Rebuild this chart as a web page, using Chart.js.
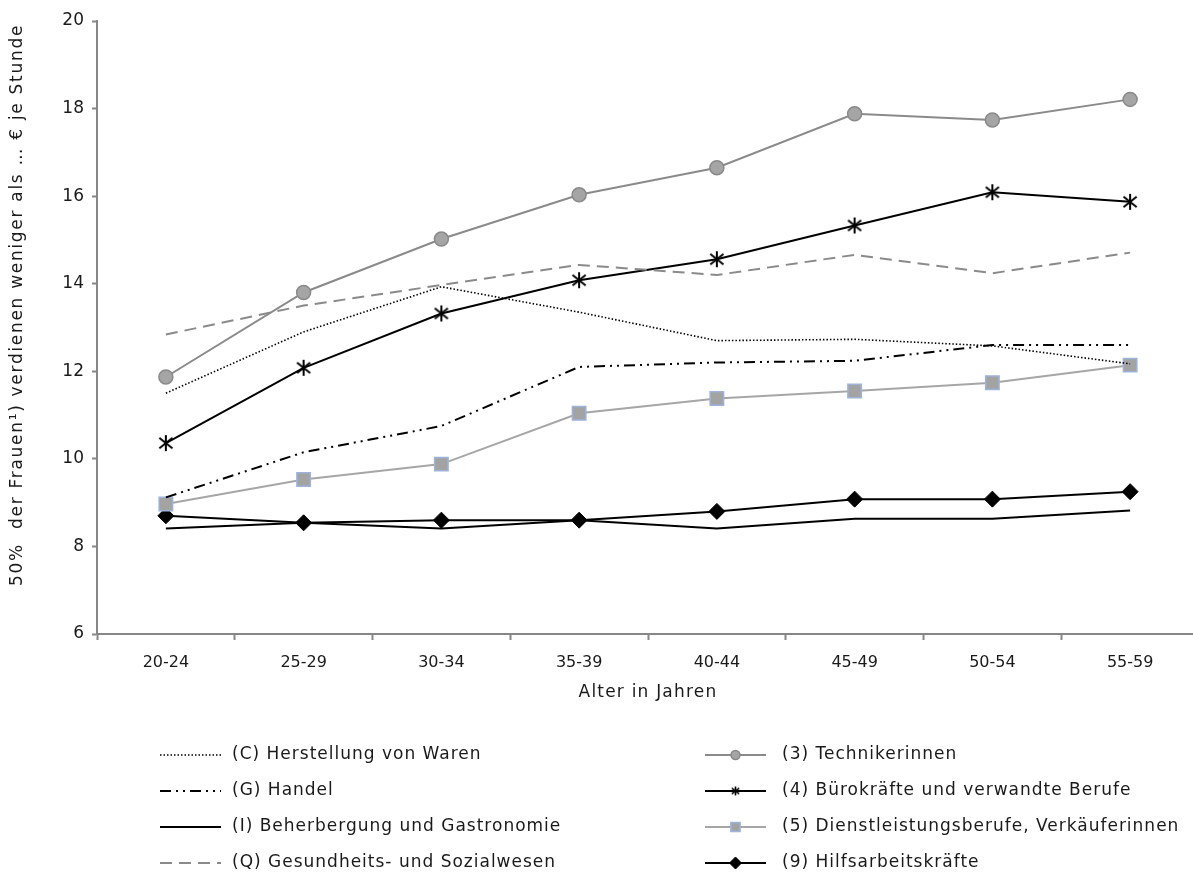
<!DOCTYPE html>
<html>
<head>
<meta charset="utf-8">
<script src="https://cdn.jsdelivr.net/npm/chart.js@4.4.1/dist/chart.umd.min.js"></script>
<style>
  html, body { margin: 0; padding: 0; background: #fff; overflow: hidden; }
  #wrap { position: absolute; left: 0; top: 0; width: 1210px; height: 875px; }
</style>
</head>
<body>
<div id="wrap"><canvas id="c"></canvas></div>
<script>
// ---- data ----
const categories = ['20-24', '25-29', '30-34', '35-39', '40-44', '45-49', '50-54', '55-59'];
const yTicks = [6, 8, 10, 12, 14, 16, 18, 20];
const herstellung = [11.50, 12.90, 13.93, 13.35, 12.70, 12.73, 12.58, 12.17];
const handel = [9.12, 10.15, 10.75, 12.10, 12.20, 12.24, 12.60, 12.60];
const beherbergung = [8.41, 8.54, 8.41, 8.60, 8.41, 8.63, 8.63, 8.82];
const gesundheit = [12.84, 13.50, 13.97, 14.43, 14.20, 14.66, 14.24, 14.71];
const techniker = [11.87, 13.80, 15.02, 16.03, 16.65, 17.88, 17.74, 18.21];
const buero = [10.36, 12.08, 13.32, 14.08, 14.56, 15.33, 16.09, 15.87];
const dienst = [8.97, 9.53, 9.88, 11.04, 11.38, 11.55, 11.74, 12.14];
const hilfs = [8.70, 8.54, 8.60, 8.60, 8.80, 9.08, 9.08, 9.25];
const seriesNames = [
  '(C) Herstellung von Waren',
  '(G) Handel',
  '(I) Beherbergung und Gastronomie',
  '(Q) Gesundheits- und Sozialwesen',
  '(3) Technikerinnen',
  '(4) Bürokräfte und verwandte Berufe',
  '(5) Dienstleistungsberufe, Verkäuferinnen',
  '(9) Hilfsarbeitskräfte'
];
const xTitle = 'Alter in Jahren';
const yTitle = '50%  der Frauen¹) verdienen weniger als … € je Stunde';

const FONT = 'DejaVu Sans';
const TEXT = '#1a1a1a';
const AXIS = '#878787';

function asterisk(size, lw) {
  const c = document.createElement('canvas');
  c.width = size; c.height = size;
  const g = c.getContext('2d');
  const r = size / 2 - 1, m = size / 2;
  g.strokeStyle = '#000'; g.lineWidth = lw; g.lineCap = 'butt';
  g.beginPath();
  g.moveTo(m, m - r); g.lineTo(m, m + r);
  const dx = r * Math.cos(Math.PI / 6) * 0.95, dy = r * Math.sin(Math.PI / 6) * 1.3;
  g.moveTo(m - dx, m - dy); g.lineTo(m + dx, m + dy);
  g.moveTo(m - dx, m + dy); g.lineTo(m + dx, m - dy);
  g.stroke();
  return c;
}
const starBig = asterisk(18, 2);
const starSmall = asterisk(11, 1.6);

const datasets = [
  { label: seriesNames[0], data: herstellung, borderColor: '#000', borderWidth: 1.6, borderDash: [1.5, 2], pointRadius: 0 },
  { label: seriesNames[1], data: handel, borderColor: '#000', borderWidth: 2, borderDash: [11, 5, 2, 5, 2, 5], pointRadius: 0 },
  { label: seriesNames[2], data: beherbergung, borderColor: '#000', borderWidth: 2, pointRadius: 0 },
  { label: seriesNames[3], data: gesundheit, borderColor: '#8a8a8a', borderWidth: 2, borderDash: [12, 7], pointRadius: 0 },
  { label: seriesNames[4], data: techniker, borderColor: '#8a8a8a', borderWidth: 2, pointStyle: 'circle', pointRadius: 7, pointBackgroundColor: '#a5a5a5', pointBorderColor: '#8a8a8a', pointBorderWidth: 1.5, legendRadius: 4.5 },
  { label: seriesNames[5], data: buero, borderColor: '#000', borderWidth: 2, pointStyle: starBig, pointRadius: 8, legendStyle: starSmall },
  { label: seriesNames[6], data: dienst, borderColor: '#a6a6a6', borderWidth: 2, pointStyle: 'rect', pointRadius: 9.5, pointBackgroundColor: '#a3a3a3', pointBorderColor: '#9db3dc', pointBorderWidth: 1.5, legendRadius: 6.5 },
  { label: seriesNames[7], data: hilfs, borderColor: '#000', borderWidth: 2, pointStyle: 'rectRot', pointRadius: 8, pointBackgroundColor: '#000', pointBorderColor: '#000', pointBorderWidth: 1, legendRadius: 6 }
];
datasets.forEach(d => { d.fill = false; d.tension = 0; d.pointHoverRadius = d.pointRadius; });

const textPlugin = {
  id: 'customText',
  afterDraw(chart) {
    const ctx = chart.ctx;
    // axis titles
    ctx.save();
    ctx.fillStyle = TEXT;
    ctx.textAlign = 'center'; ctx.textBaseline = 'middle';
    ctx.font = '17px "' + FONT + '"';
    ctx.letterSpacing = '1.2px';
    ctx.fillText(xTitle, (chart.chartArea.left + chart.chartArea.right) / 2, 693);
    ctx.translate(18, 305);
    ctx.rotate(-Math.PI / 2);
    ctx.font = '17px "' + FONT + '"';
    ctx.letterSpacing = '1.7px';
    ctx.fillText(yTitle, 0, 0);
    ctx.restore();

    // legend
    const cols = [{ x0: 160, x1: 221, tx: 232 }, { x0: 705, x1: 766, tx: 782 }];
    const rows = [755, 791, 827, 863];
    chart.data.datasets.forEach((d, i) => {
      const col = cols[Math.floor(i / 4)], y = rows[i % 4];
      ctx.save();
      ctx.strokeStyle = d.borderColor; ctx.lineWidth = d.borderWidth;
      ctx.setLineDash(d.borderDash || []);
      ctx.beginPath(); ctx.moveTo(col.x0, y); ctx.lineTo(col.x1, y); ctx.stroke();
      ctx.setLineDash([]);
      if (d.pointRadius > 0) {
        const mx = (col.x0 + col.x1) / 2;
        if (d.legendStyle) {
          ctx.drawImage(d.legendStyle, mx - d.legendStyle.width / 2, y - d.legendStyle.height / 2);
        } else {
          ctx.fillStyle = d.pointBackgroundColor; ctx.strokeStyle = d.pointBorderColor;
          ctx.lineWidth = d.pointBorderWidth;
          Chart.helpers.drawPoint(ctx, { pointStyle: d.pointStyle, radius: d.legendRadius, borderWidth: d.pointBorderWidth, rotation: 0 }, mx, y);
        }
      }
      ctx.fillStyle = TEXT; ctx.font = '17px "' + FONT + '"';
      ctx.letterSpacing = '1px';
      ctx.textBaseline = 'middle'; ctx.textAlign = 'left';
      ctx.fillText(d.label, col.tx, y);
      ctx.restore();
    });
  }
};

new Chart(document.getElementById('c'), {
  type: 'line',
  data: { labels: categories, datasets },
  plugins: [textPlugin],
  options: {
    responsive: true,
    maintainAspectRatio: false,
    animation: false,
    events: [],
    layout: { padding: { top: 21, right: 8, bottom: 189, left: 0 } },
    plugins: { legend: { display: false }, tooltip: { enabled: false }, title: { display: false } },
    scales: {
      x: {
        type: 'category',
        offset: true,
        grid: { display: true, drawOnChartArea: false, drawTicks: true, tickLength: 6, tickColor: AXIS, tickWidth: 2, offset: true },
        border: { display: true, color: AXIS, width: 2 },
        ticks: { color: TEXT, font: { family: FONT, size: 16 }, padding: 13, maxRotation: 0 },
        title: { display: false },
        afterFit(s) { s.height = 52; }
      },
      y: {
        min: 6, max: 20,
        afterBuildTicks(s) { s.ticks = yTicks.map(v => ({ value: v })); },
        grid: { display: true, drawOnChartArea: false, drawTicks: true, tickLength: 5, tickColor: AXIS, tickWidth: 2 },
        border: { display: true, color: AXIS, width: 2 },
        ticks: { color: TEXT, font: { family: FONT, size: 17 }, padding: 8 },
        title: { display: false },
        afterFit(s) { s.width = 97; }
      }
    }
  }
});
</script>
</body>
</html>
